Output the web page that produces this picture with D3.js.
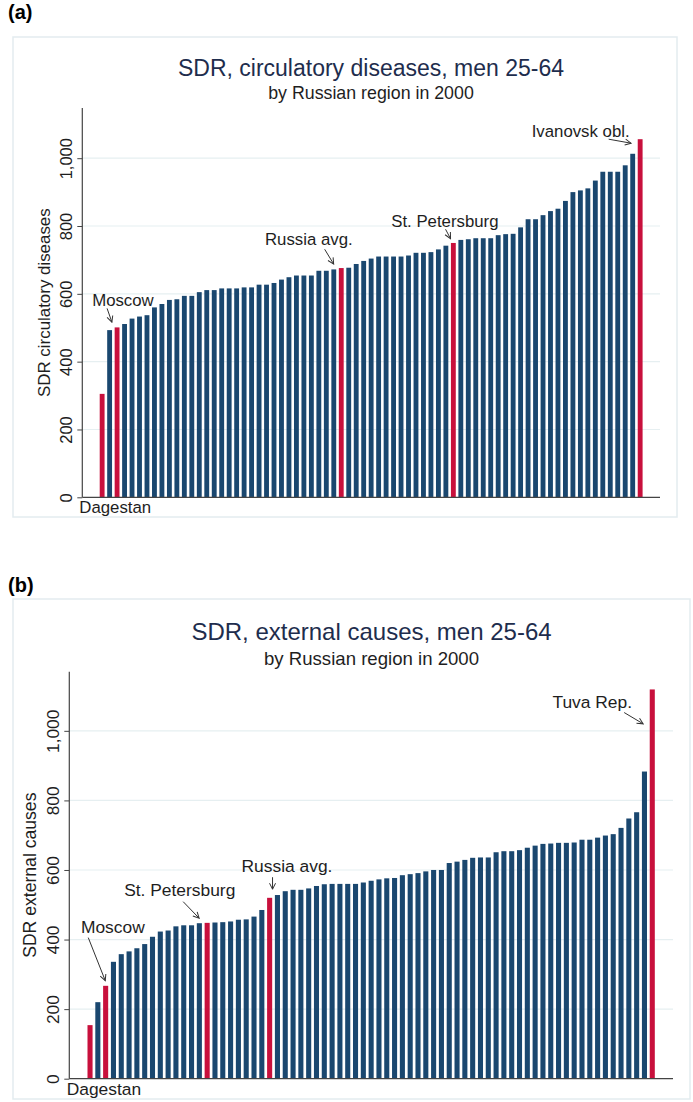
<!DOCTYPE html>
<html>
<head>
<meta charset="utf-8">
<script src="https://cdn.jsdelivr.net/npm/d3@7"></script>
<style>
  html, body { margin: 0; padding: 0; background: #ffffff; }
  svg { display: block; }
  text { font-family: "Liberation Sans", Arial, sans-serif; }
</style>
</head>
<body>
<svg id="chart" width="693" height="1102"></svg>
<script>
// ---------------- DATA ----------------
// (a) SDR, circulatory diseases, men 25-64, regions sorted ascending
const circValues = [
  305, 493, 501, 511, 527, 533, 537, 560, 570, 582,
  584, 594, 594, 605, 611, 611, 616, 616, 616, 619,
  619, 627, 627, 632, 642, 649, 654, 654, 654, 668,
  668, 672, 676, 677, 688, 697, 704, 710, 710, 710,
  710, 713, 721, 721, 723, 731, 742, 750, 759, 761,
  764, 764, 764, 773, 776, 777, 796, 820, 820, 832,
  844, 851, 874, 900, 905, 911, 934, 960, 960, 960,
  979, 1013, 1056
];
const circNamedRanks  = [1, 3, 33, 48, 73];
const circNamedLabels = ["Dagestan", "Moscow", "Russia avg.", "St. Petersburg", "Ivanovsk obl."];

// (b) SDR, external causes, men 25-64, regions sorted ascending
const extValues = [
  154, 220, 267, 336, 358, 366, 375, 387, 408, 423,
  426, 438, 441, 441, 447, 448, 449, 450, 452, 457,
  458, 466, 485, 520, 528, 539, 543, 543, 547, 554,
  559, 560, 560, 560, 560, 564, 569, 573, 576, 577,
  585, 588, 591, 596, 600, 600, 620, 624, 629, 635,
  636, 636, 651, 654, 654, 657, 664, 670, 675, 676,
  678, 678, 679, 687, 687, 693, 699, 703, 721, 748,
  766, 883, 1119
];
const extNamedRanks  = [1, 3, 16, 24, 73];
const extNamedLabels = ["Dagestan", "Moscow", "St. Petersburg", "Russia avg.", "Tuva Rep."];

const yTickValues = [0, 200, 400, 600, 800, 1000];
const yTickLabels = ["0", "200", "400", "600", "800", "1,000"];

const titles = ["SDR, circulatory diseases, men 25-64", "SDR, external causes, men 25-64"];
const subtitle = "by Russian region in 2000";
const yTitles = ["SDR circulatory diseases", "SDR external causes"];
const panelTags = ["(a)", "(b)"];

// ---------------- LAYOUT / STYLE ----------------
const NAVY = "#1a476f", RED = "#c8103c", GRID = "#e6eff1", AXIS = "#444", TXT = "#1e1e1e";

const panels = [
  {
    values: circValues, ranks: circNamedRanks, labels: circNamedLabels,
    title: titles[0], yTitle: yTitles[0], tag: panelTags[0],
    box: {x: 13, y: 37, w: 664, h: 480}, tagY: 19,
    plot: {left: 82.3, right: 660, top: 108, bottom: 497.3}, yMax: 1148,
    titleY: 76, titleSize: 23, subY: 99, subSize: 17.8, cx: 371,
    tickSize: 16.5, yTitleSize: 16.9, yTitleX: 50.4, annSize: 16.8,
    ann: {
      "Dagestan":       {dagestan: true, dx: -3, dy: 16},
      "Moscow":         {tx: -24.9, ty: -21.3, a: [-10, -19, -5.2, -5.3]},
      "Russia avg.":    {tx: -76.3, ty: -23,   a: [-16.6, -18.8, -7.6, -4]},
      "St. Petersburg": {tx: -62.1, ty: -15.7, a: [-7.8, -13.7, -2.8, -4.3]},
      "Ivanovsk obl.":  {tx: -108.5, ty: -2.6, a: [-31.5, 0, -9.1, 4]}
    }
  },
  {
    values: extValues, ranks: extNamedRanks, labels: extNamedLabels,
    title: titles[1], yTitle: yTitles[1], tag: panelTags[1],
    box: {x: 13, y: 599, w: 677, h: 500}, tagY: 592,
    plot: {left: 69.3, right: 673, top: 671.7, bottom: 1078.7}, yMax: 1170,
    titleY: 640, titleSize: 24, subY: 665, subSize: 18.6, cx: 371.5,
    tickSize: 17.3, yTitleSize: 17.6, yTitleX: 36, annSize: 17.4,
    ann: {
      "Dagestan":       {dagestan: true, dx: -2.6, dy: 16.5},
      "Moscow":         {tx: -24.7, ty: -52.6, a: [-17.4, -48.2, -0.4, -5.2]},
      "St. Petersburg": {tx: -83,   ty: -26.9, a: [-24, -21.2, -8, -4.6]},
      "Russia avg.":    {tx: -28.1, ty: -26.2, a: [2.9, -20.6, 2.9, -8.6]},
      "Tuva Rep.":      {tx: -99.8, ty: 18.7,  a: [-28.1, 23.1, -9.1, 34.4]}
    }
  }
];

const svg = d3.select("#chart");

const defs = svg.append("defs");
defs.append("marker")
  .attr("id", "arrowhead")
  .attr("viewBox", "-7 -4 8 8")
  .attr("refX", 0).attr("refY", 0)
  .attr("markerWidth", 8).attr("markerHeight", 8)
  .attr("markerUnits", "userSpaceOnUse")
  .attr("orient", "auto")
  .append("path")
  .attr("d", "M-6,-3 L0,0 L-6,3")
  .attr("fill", "none")
  .attr("stroke", "#333")
  .attr("stroke-width", 1);

panels.forEach(p => {
  const g = svg.append("g");

  // panel tag
  g.append("text")
    .attr("x", 8).attr("y", p.tagY)
    .attr("font-size", 20).attr("font-weight", "bold")
    .attr("fill", "#000")
    .text(p.tag);

  // graph region outline
  g.append("rect")
    .attr("x", p.box.x).attr("y", p.box.y)
    .attr("width", p.box.w).attr("height", p.box.h)
    .attr("fill", "#fff").attr("stroke", "#e3ecef").attr("stroke-width", 1.5);

  // titles
  g.append("text")
    .attr("x", p.cx).attr("y", p.titleY)
    .attr("text-anchor", "middle")
    .attr("font-size", p.titleSize)
    .attr("fill", "#1e2d4d")
    .text(p.title);
  g.append("text")
    .attr("x", p.cx).attr("y", p.subY)
    .attr("text-anchor", "middle")
    .attr("font-size", p.subSize)
    .attr("fill", TXT)
    .text(subtitle);

  // scales
  const idx = p.values.map((v, i) => i + 1);
  const x = d3.scaleBand()
    .domain(idx)
    .range([p.plot.left, p.plot.right])
    .paddingInner(0.35)
    .paddingOuter(2.33);
  const y = d3.scaleLinear()
    .domain([0, p.yMax])
    .range([p.plot.bottom, p.plot.top]);

  // gridlines
  g.append("g")
    .selectAll("line")
    .data(yTickValues.filter(t => t > 0))
    .join("line")
    .attr("x1", p.plot.left).attr("x2", p.plot.right)
    .attr("y1", d => y(d)).attr("y2", d => y(d))
    .attr("stroke", GRID).attr("stroke-width", 1.2);

  // y axis
  const yAxis = d3.axisLeft(y)
    .tickValues(yTickValues)
    .tickFormat((d, i) => yTickLabels[i])
    .tickSize(5)
    .tickPadding(5);
  const ax = g.append("g")
    .attr("transform", `translate(${p.plot.left},0)`)
    .call(yAxis);
  ax.select(".domain").remove();
  ax.selectAll(".tick line").attr("stroke", AXIS);
  ax.selectAll(".tick text")
    .attr("font-size", p.tickSize)
    .attr("font-family", "Liberation Sans, Arial, sans-serif")
    .attr("fill", TXT)
    .attr("text-anchor", "middle")
    .attr("x", null).attr("dy", null)
    .attr("transform", "translate(-10,0) rotate(-90)")
    .attr("y", 0);

  // bars
  const named = new Map(p.ranks.map((r, i) => [r, p.labels[i]]));
  g.append("g")
    .selectAll("rect")
    .data(p.values)
    .join("rect")
    .attr("x", (d, i) => x(i + 1))
    .attr("width", x.bandwidth())
    .attr("y", d => y(d))
    .attr("height", d => y(0) - y(d))
    .attr("fill", (d, i) => named.has(i + 1) ? RED : NAVY);

  // axis lines
  g.append("line")
    .attr("x1", p.plot.left).attr("x2", p.plot.left)
    .attr("y1", p.plot.top).attr("y2", p.plot.bottom)
    .attr("stroke", AXIS).attr("stroke-width", 1.2);
  g.append("line")
    .attr("x1", p.plot.left).attr("x2", p.plot.right)
    .attr("y1", p.plot.bottom).attr("y2", p.plot.bottom)
    .attr("stroke", AXIS).attr("stroke-width", 1.2);

  // y axis title
  g.append("text")
    .attr("transform", `translate(${p.yTitleX},${(p.plot.top + p.plot.bottom) / 2}) rotate(-90)`)
    .attr("text-anchor", "middle")
    .attr("font-size", p.yTitleSize)
    .attr("fill", TXT)
    .text(p.yTitle);

  // annotations
  p.ranks.forEach((r, i) => {
    const label = p.labels[i];
    const cfg = p.ann[label];
    const bx = x(r) + x.bandwidth() / 2;
    const by = y(p.values[r - 1]);
    if (cfg.dagestan) {
      g.append("text")
        .attr("x", p.plot.left + cfg.dx)
        .attr("y", y(0) + cfg.dy)
        .attr("font-size", p.annSize)
        .attr("fill", TXT)
        .text(label);
      return;
    }
    g.append("text")
      .attr("x", bx + cfg.tx)
      .attr("y", by + cfg.ty)
      .attr("font-size", p.annSize)
      .attr("fill", TXT)
      .text(label);
    g.append("line")
      .attr("x1", bx + cfg.a[0]).attr("y1", by + cfg.a[1])
      .attr("x2", bx + cfg.a[2]).attr("y2", by + cfg.a[3])
      .attr("stroke", "#333").attr("stroke-width", 1)
      .attr("marker-end", "url(#arrowhead)");
  });
});
</script>
</body>
</html>
